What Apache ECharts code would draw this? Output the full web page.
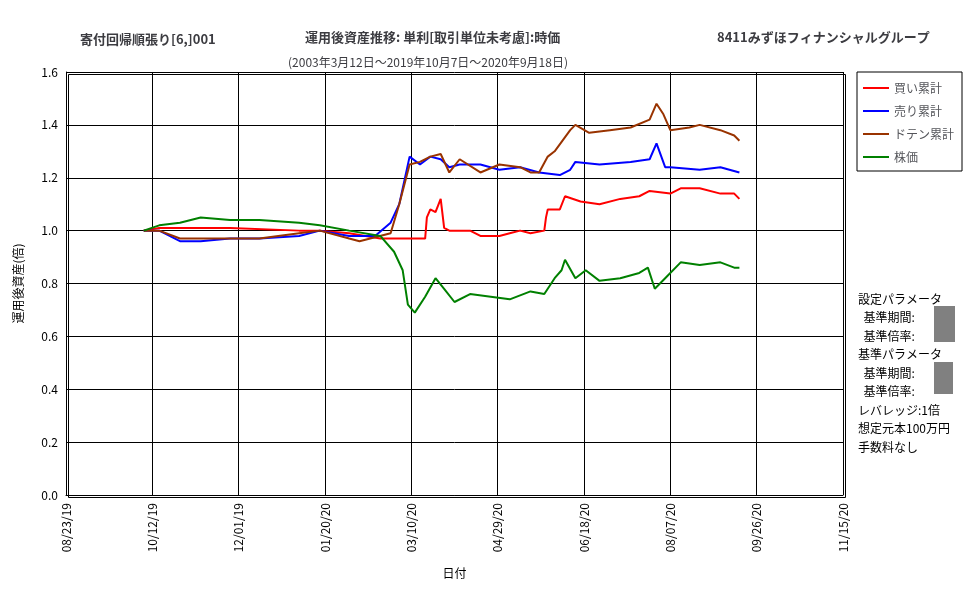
<!DOCTYPE html><html><head><meta charset="utf-8"><script src="https://cdn.jsdelivr.net/npm/echarts@6/dist/echarts.min.js"></script></head><body style="margin:0;background:#fff"><div id="c" style="width:977px;height:600px"></div><script>
const xTickLabels=['08/23/19','10/12/19','12/01/19','01/20/20','03/10/20','04/29/20','06/18/20','08/07/20','09/26/20','11/15/20'];
const yTickLabels=['0.0','0.2','0.4','0.6','0.8','1.0','1.2','1.4','1.6'];
const seriesNames=['買い累計','売り累計','ドテン累計','株価'];
const buyData=[[45,1.0],[54,1.01],[66,1.01],[95,1.01],[135,1.0],[147,1.0],[164,0.99],[182,0.97],[208,0.97],[209,1.05],[211,1.08],[214,1.07],[217,1.12],[219,1.01],[222,1.0],[234,1.0],[240,0.98],[251,0.98],[257,0.99],[263,1.0],[269,0.99],[277,1.0],[278,1.05],[279,1.08],[286,1.08],[289,1.13],[298,1.11],[309,1.10],[321,1.12],[332,1.13],[338,1.15],[350,1.14],[356,1.16],[367,1.16],[379,1.14],[387,1.14],[390,1.12]];
const sellData=[[45,1.0],[54,1.0],[66,0.96],[78,0.96],[95,0.97],[112,0.97],[135,0.98],[147,1.0],[164,0.98],[179,0.98],[188,1.03],[193,1.1],[199,1.28],[205,1.25],[211,1.28],[217,1.27],[222,1.24],[228,1.25],[240,1.25],[251,1.23],[263,1.24],[274,1.22],[286,1.21],[292,1.23],[295,1.26],[309,1.25],[327,1.26],[338,1.27],[342,1.33],[347,1.24],[350,1.24],[367,1.23],[379,1.24],[390,1.22]];
const dotenData=[[45,1.0],[54,1.0],[66,0.97],[78,0.97],[95,0.97],[112,0.97],[135,0.99],[147,1.0],[164,0.97],[170,0.96],[188,0.99],[193,1.1],[199,1.25],[205,1.26],[211,1.28],[217,1.29],[222,1.22],[228,1.27],[240,1.22],[251,1.25],[263,1.24],[269,1.22],[274,1.22],[279,1.28],[283,1.30],[292,1.38],[295,1.40],[303,1.37],[315,1.38],[327,1.39],[338,1.42],[342,1.48],[346,1.44],[350,1.38],[361,1.39],[367,1.40],[379,1.38],[387,1.36],[390,1.34]];
const stockData=[[45,1.0],[54,1.02],[66,1.03],[78,1.05],[95,1.04],[112,1.04],[135,1.03],[147,1.02],[164,1.0],[182,0.98],[190,0.92],[195,0.85],[198,0.72],[202,0.69],[208,0.75],[214,0.82],[219,0.78],[225,0.73],[234,0.76],[246,0.75],[257,0.74],[269,0.77],[277,0.76],[283,0.82],[287,0.85],[289,0.89],[295,0.82],[301,0.85],[309,0.81],[321,0.82],[332,0.84],[337,0.86],[341,0.78],[347,0.82],[356,0.88],[367,0.87],[379,0.88],[387,0.86],[390,0.86]];
const colors=['#ff0000','#0000ff','#993300','#008000'];
const F='"Noto Sans CJK JP",sans-serif';
const chart=echarts.init(document.getElementById('c'));
const datas=[buyData,sellData,dotenData,stockData];
chart.setOption({
 animation:false,
 textStyle:{fontFamily:F,color:'#000'},
 grid:{left:66,right:134,top:72,bottom:105},
 title:[
  {text:'寄付回帰順張り[6,]001',left:75,top:28,textStyle:{fontSize:13,fontWeight:'bold',fontFamily:F}},
  {text:'運用後資産推移: 単利[取引単位未考慮]:時価',left:300,top:26,textStyle:{fontSize:13,fontWeight:'bold',fontFamily:F}},
  {text:'8411みずほフィナンシャルグループ',left:712,top:26,textStyle:{fontSize:13,fontWeight:'bold',fontFamily:F}},
  {text:'(2003年3月12日～2019年10月7日～2020年9月18日)',left:283,top:51,textStyle:{fontSize:12,fontWeight:'normal',fontFamily:F}}
 ],
 legend:{orient:'vertical',left:857,top:72,width:98,height:110,padding:[10,8,8,6],itemGap:11,itemWidth:26,itemHeight:2,borderColor:'#000',borderWidth:1,
  textStyle:{fontSize:12,fontFamily:F},data:seriesNames.map(n=>({name:n,icon:'rect'}))},
 xAxis:{type:'value',min:0,max:450,interval:50,name:'日付',nameLocation:'middle',nameGap:72,nameTextStyle:{fontSize:12},
  axisLine:{lineStyle:{color:'#000'}},axisTick:{show:true,length:-5,lineStyle:{color:'#000'}},
  splitLine:{show:true,lineStyle:{color:'#000'}},
  axisLabel:{rotate:90,fontSize:12,color:'#000',formatter:(v)=>xTickLabels[Math.round(v/50)]||''}},
 yAxis:{type:'value',min:0,max:1.6,interval:0.2,name:'運用後資産(倍)',nameLocation:'middle',nameGap:42,nameTextStyle:{fontSize:12},
  axisLine:{show:true,lineStyle:{color:'#000'}},axisTick:{show:false},
  splitLine:{lineStyle:{color:'#000'}},
  axisLabel:{fontSize:12,color:'#000',formatter:(v)=>yTickLabels[Math.round(v/0.2)]}},
 graphic:[
  {type:'rect',left:66,top:72,shape:{width:777,height:423},style:{fill:'none',stroke:'#000',lineWidth:1},silent:true},
  {type:'text',left:858,top:290,style:{text:'設定パラメータ\n  基準期間:\n  基準倍率:\n基準パラメータ\n  基準期間:\n  基準倍率:\nレバレッジ:1倍\n想定元本100万円\n手数料なし',font:'12px '+F,lineHeight:18.5,fill:'#000'}},
  {type:'rect',left:934,top:306,shape:{width:21,height:36},style:{fill:'#808080'}},
  {type:'rect',left:934,top:362,shape:{width:19,height:32},style:{fill:'#808080'}}
 ],
 series:seriesNames.map((n,i)=>({name:n,type:'line',data:datas[i],showSymbol:false,lineStyle:{width:2,color:colors[i]},itemStyle:{color:colors[i]}}))
});
</script></body></html>
